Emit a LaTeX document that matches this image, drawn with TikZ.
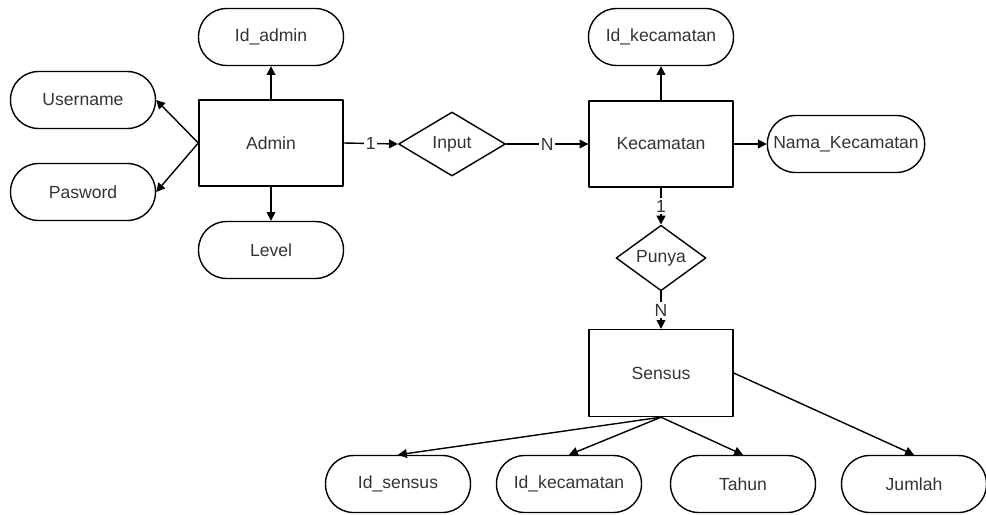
\documentclass[tikz,border=0pt]{standalone}
\usepackage{fontspec}
\setmainfont{Liberation Sans}
\usetikzlibrary{arrows.meta,shapes.geometric}
\begin{document}
\begin{tikzpicture}[x=0.02cm,y=-0.02cm,line cap=round,line join=round,>={Triangle[length=5pt,width=5pt]},
  entity/.style={draw,line width=0.8pt,minimum width=2.88cm,minimum height=1.72cm,text=black!80},
  attrib/.style={draw,line width=0.8pt,rounded corners=0.56cm,minimum width=2.9cm,minimum height=1.14cm,text=black!80},
  relation/.style={draw,diamond,line width=0.8pt,inner sep=0pt,text=black!80},
  card/.style={fill=white,inner sep=1pt,text=black!80},
  link/.style={line width=0.8pt,->}]
  \useasboundingbox (0,0) rectangle (986,514);
  \node[entity] (admin) at (271,143) {Admin};
  \node[attrib] (idadmin) at (271,37) {Id\_admin};
  \node[attrib] (username) at (83,100) {Username};
  \node[attrib] (pasword) at (83,192) {Pasword};
  \node[attrib] (level) at (271,250) {Level};
  \node[relation,minimum width=2.14cm,minimum height=1.28cm] (input) at (452,144) {Input};
  \node[entity] (kecamatan) at (661,144) {Kecamatan};
  \node[attrib] (idkec) at (661,37) {Id\_kecamatan};
  \node[attrib] (nama) at (846,144) {Nama\_Kecamatan};
  \node[relation,minimum width=1.8cm,minimum height=1.02cm] (punya) at (661,258) {Punya};
  \node[entity,minimum height=1.74cm] (sensus) at (661,373) {Sensus};
  \node[attrib] (idsensus) at (398,484) {Id\_sensus};
  \node[attrib] (idkecsensus) at (569,484) {Id\_kecamatan};
  \node[attrib] (tahun) at (743,484) {Tahun};
  \node[attrib] (jumlah) at (914,484) {Jumlah};

  \draw[link] (admin.north) -- (idadmin.south);
  \draw[link] (admin.west) -- (username.east);
  \draw[link] (admin.west) -- (pasword.east);
  \draw[link] (admin.south) -- (level.north);
  \draw[link] (admin.east) -- node[card] {1} (input.west);
  \draw[link] (input.east) -- node[card] {N} (kecamatan.west);
  \draw[link] (kecamatan.north) -- (idkec.south);
  \draw[link] (kecamatan.east) -- (nama.west);
  \draw[link] (kecamatan.south) -- node[card] {1} (punya.north);
  \draw[link] (punya.south) -- node[card] {N} (sensus.north);
  \draw[link] (sensus.south) -- (idsensus.north);
  \draw[link] (sensus.south) -- (idkecsensus.north);
  \draw[link] (sensus.south) -- (tahun.north);
  \draw[link] (sensus.east) -- (jumlah.north);
\end{tikzpicture}
\end{document}
